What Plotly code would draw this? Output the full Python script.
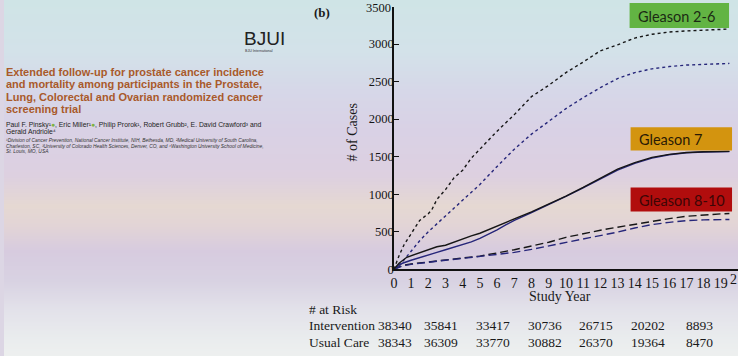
import plotly.graph_objects as go

W, H = 738, 356      # picture size (all positions below are in these pixels)
HL = 364             # layout height: the page is captured ~364px tall and fitted to 356

# ---------------- data ----------------
g26_int_years = [0, 0.3, 0.6, 1, 1.5, 2, 2.2, 2.5, 3, 3.5, 4, 4.5, 5, 6, 7, 8, 9, 10, 11, 12, 13, 14, 15, 16, 17, 18, 19, 19.5]
g26_int_cases = [0, 180, 330, 470, 650, 740, 790, 930, 1060, 1220, 1320, 1480, 1600, 1840, 2060, 2300, 2450, 2620, 2760, 2910, 2990, 3080, 3130, 3160, 3175, 3185, 3195, 3200]

g26_uc_years = [0, 0.5, 1, 1.5, 2, 2.5, 3, 3.5, 4, 4.5, 5, 6, 7, 8, 9, 10, 11, 12, 13, 14, 15, 16, 17, 18, 19, 19.5]
g26_uc_cases = [0, 100, 240, 380, 500, 610, 710, 815, 920, 1020, 1130, 1370, 1600, 1800, 1970, 2140, 2285, 2420, 2540, 2620, 2670, 2700, 2720, 2732, 2740, 2742]

g7_int_years = [0, 0.3, 0.75, 1, 1.5, 2, 2.5, 3, 3.5, 4, 4.5, 5, 5.5, 6, 6.5, 7, 8, 9, 10, 11, 12, 13, 14, 15, 16, 17, 18, 19, 19.5]
g7_int_cases = [0, 80, 160, 180, 230, 260, 300, 320, 365, 400, 445, 480, 530, 580, 625, 670, 765, 865, 975, 1090, 1210, 1335, 1420, 1490, 1530, 1555, 1565, 1568, 1570]

g7_uc_years = [0, 0.5, 1, 1.5, 2, 2.5, 3, 3.5, 4, 4.5, 5, 5.5, 6, 6.5, 7, 8, 9, 10, 11, 12, 13, 14, 15, 16, 17, 18, 19, 19.5]
g7_uc_cases = [0, 80, 120, 158, 190, 225, 260, 295, 325, 365, 410, 465, 525, 590, 650, 755, 860, 970, 1085, 1200, 1320, 1410, 1480, 1525, 1550, 1562, 1566, 1568]

g810_int_years = [0, 0.5, 1, 2, 3, 4, 5, 6, 7, 8, 9, 10, 11, 12, 13, 14, 15, 16, 17, 18, 19, 19.5]
g810_int_cases = [0, 50, 70, 100, 125, 150, 175, 215, 260, 310, 360, 425, 475, 520, 560, 600, 640, 675, 705, 725, 738, 742]

g810_uc_years = [0, 0.5, 1, 2, 3, 4, 5, 6, 7, 8, 9, 10, 11, 12, 13, 14, 15, 16, 17, 18, 19, 19.5]
g810_uc_cases = [0, 45, 65, 95, 120, 145, 170, 195, 225, 265, 310, 360, 405, 450, 495, 550, 595, 625, 648, 658, 662, 663]

risk_years = [0, 3, 6, 9, 12, 15, 18]
risk_intervention = [38340, 35841, 33417, 30736, 26715, 20202, 8893]
risk_usual = [38343, 36309, 33770, 30882, 26370, 19364, 8470]

x_tick_vals = list(range(0, 20))
y_tick_vals = list(range(0, 3501, 500))
y_tick_text = [str(v) for v in y_tick_vals[:-1]] + [""]   # top label drawn separately

# background gradient stops (pixel row from top, colour)
bg_rows = [0, 50, 90, 130, 175, 205, 225, 250, 280, 310, 340, 356]
bg_cols = ["#cfe4e6", "#d3e2e9", "#d6d7e8", "#d9d1e5", "#ddd0e0", "#e5d8d2",
           "#e2d4d6", "#d7cbdf", "#d8d2e2", "#e3e2ea", "#eaedee", "#eef0ef"]

# ---------------- helpers ----------------
def px(x):
    return x / W

def py(y):
    return 1 - y / H

SERIF = "Liberation Serif"
BLACK = "#161616"
NAVY = "#26267a"

fig = go.Figure()

bg_centers = [i + 0.5 for i in range(0, H, 2)]
fig.add_trace(go.Heatmap(
    x=[0.25, 0.75], y=bg_centers, z=[[r, r] for r in bg_centers],
    zmin=0, zmax=H, zsmooth="best", showscale=False, hoverinfo="skip",
    colorscale=[[r / H, c] for r, c in zip(bg_rows, bg_cols)],
    xaxis="x", yaxis="y",
))

def line(xs, ys, color, dash):
    fig.add_trace(go.Scatter(x=xs, y=ys, mode="lines", xaxis="x2", yaxis="y2",
                             line=dict(color=color, width=1.4, dash=dash),
                             hoverinfo="skip", showlegend=False))

line(g26_int_years, g26_int_cases, BLACK, "3px,3px")
line(g26_uc_years, g26_uc_cases, NAVY, "3px,3px")
line(g810_int_years, g810_int_cases, BLACK, "8px,4px")
line(g810_uc_years, g810_uc_cases, NAVY, "8px,4px")
line(g7_uc_years, g7_uc_cases, NAVY, "solid")
line(g7_int_years, g7_int_cases, BLACK, "solid")

fig.update_layout(
    width=W, height=HL, margin=dict(l=0, r=0, t=0, b=0),
    paper_bgcolor="#dcd6e4", plot_bgcolor="rgba(0,0,0,0)",
    showlegend=False,
    xaxis=dict(domain=[0, 1], range=[0, 1], visible=False, fixedrange=True),
    yaxis=dict(domain=[0, 1], range=[H, 0], visible=False, fixedrange=True),
    xaxis2=dict(domain=[392 / W, 1], anchor="y2", range=[0, 20],
                tickvals=x_tick_vals, ticktext=[str(v) for v in x_tick_vals],
                showline=True, linecolor="#111", linewidth=1.5, ticks="",
                showgrid=False, zeroline=False,
                tickfont=dict(family=SERIF, size=14, color="#151515")),
    yaxis2=dict(domain=[(H - 268.5) / H, (H - 6.5) / H], anchor="x2", range=[0, 3500],
                tickvals=y_tick_vals, ticktext=y_tick_text,
                showline=True, linecolor="#111", linewidth=1.5,
                ticks="inside", ticklen=5, tickwidth=1.3, tickcolor="#111",
                showgrid=False, zeroline=False,
                ticklabelstandoff=-4,
                tickfont=dict(family=SERIF, size=12.5, color="#151515")),
)

ann = []
def text(x, y, s, size, color="#1a1a1a", family=SERIF, xanchor="left", **kw):
    ann.append(dict(x=px(x), y=py(y), xref="paper", yref="paper", text=s, showarrow=False,
                    xanchor=xanchor, yanchor="middle",
                    font=dict(family=family, size=size, color=color), **kw))

# top y tick label (kept inside the page)
ann.append(dict(x=px(391), y=1, xref="paper", yref="paper", text=str(y_tick_vals[-1]),
                showarrow=False, xanchor="right", yanchor="top", yshift=1,
                font=dict(family=SERIF, size=12.5, color="#151515")))
# the "20" tick label is cut by the slide edge; only its first digit shows
ann.append(dict(x=20, y=py(279), xref="x2", yref="paper", text="2", showarrow=False,
                xanchor="right", yanchor="middle", xshift=1,
                font=dict(family=SERIF, size=14, color="#151515")))

text(350, 132, "# of Cases", 14, xanchor="center", textangle=-90)
text(559, 296, "Study Year", 14, xanchor="center")
text(310, 12, "<b>(b)</b>", 13)

text(305, 309, "# at Risk", 13.5)
text(305, 325, "Intervention", 13.5)
text(305, 342, "Usual Care", 13.5)
for yr, a, b in zip(risk_years, risk_intervention, risk_usual):
    xs = 1 if yr == 0 else -4
    ann.append(dict(x=yr, y=py(325), xref="x2", yref="paper", text=str(a), showarrow=False,
                    xanchor="center", yanchor="middle", xshift=xs,
                    font=dict(family=SERIF, size=13.5, color="#1a1a1a")))
    ann.append(dict(x=yr, y=py(342), xref="x2", yref="paper", text=str(b), showarrow=False,
                    xanchor="center", yanchor="middle", xshift=xs,
                    font=dict(family=SERIF, size=13.5, color="#1a1a1a")))

boxes = [
    (629, 729, 3, 28, "#62b443", "Gleason 2-6", "#1b2a14"),
    (630, 732, 127, 150, "#d3940f", "Gleason 7", "#2a1a05"),
    (630, 732, 187, 211, "#b10d0d", "Gleason 8-10", "#3c0606"),
]
shapes = []
for x0, x1, y0, y1, fill, label, tc in boxes:
    shapes.append(dict(type="rect", xref="paper", yref="paper", x0=px(x0), x1=px(x1),
                       y0=py(y1), y1=py(y0), fillcolor=fill, line=dict(width=0), layer="above"))
    text(x0 + 6, (y0 + y1) / 2 + 0.5, label, 14.5, color=tc, family="Lato")

SANS = "Liberation Sans"
text(239, 38, "BJUI", 19, color="#222", family=SANS)
text(240, 51, "BJU International", 3.6, color="#333", family=SANS)
TITLE_C = "#a95a2b"
title_lines = ["Extended follow-up for prostate cancer incidence",
               "and mortality among participants in the Prostate,",
               "Lung, Colorectal and Ovarian randomized cancer",
               "screening trial"]
for i, t in enumerate(title_lines):
    text(0.5, 72 + i * 12.2, "<b>" + t + "</b>", 11, color=TITLE_C, family=SANS)

orc = "<span style='color:#7cb342'>●</span>"
text(0.5, 125, "Paul F. Pinsky¹" + orc + ", Eric Miller¹" + orc +
     ", Philip Prorok¹, Robert Grubb², E. David Crawford³ and", 6.8, color="#222", family=SANS)
text(0.5, 131.5, "Gerald Andriole⁴", 6.8, color="#222", family=SANS)
aff = ["<i>¹Division of Cancer Prevention, National Cancer Institute, NIH, Bethesda, MD, ²Medical University of South Carolina,</i>",
       "<i>Charleston, SC, ³University of Colorado Health Sciences, Denver, CO, and ⁴Washington University School of Medicine,</i>",
       "<i>St. Louis, MO, USA</i>"]
for i, t in enumerate(aff):
    text(0.0, 140 + i * 5.6, t, 4.9, color="#333", family=SANS)

fig.update_layout(annotations=ann, shapes=shapes)
fig.write_html(
    "out.html",
    post_script="document.body.style.margin='0';"
                "document.body.style.background='#eef0ef';"
                "document.documentElement.style.background='#eef0ef';",
)
